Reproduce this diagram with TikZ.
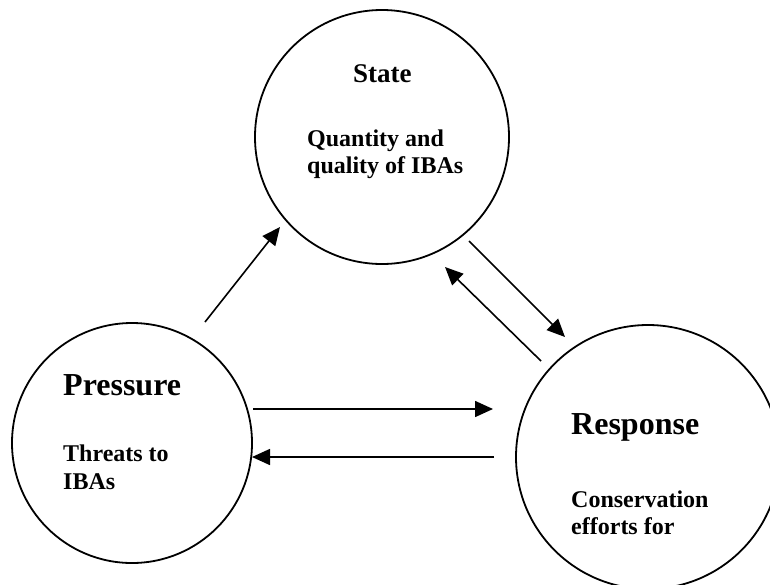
\documentclass[tikz,border=0pt]{standalone}
\usepackage{fontspec}
\setmainfont{Liberation Serif}
\usetikzlibrary{arrows.meta}
\begin{document}
\begin{tikzpicture}[x=1pt,y=-1pt,
  ring/.style={draw, circle, line width=1.8pt, inner sep=0pt},
  link/.style={line width=1.6pt, -{Triangle[length=18pt,width=16pt]}},
  bigtxt/.style={font=\bfseries\fontsize{32}{36}\selectfont, anchor=base west, inner sep=0pt},
  midtxt/.style={font=\bfseries\fontsize{27}{30}\selectfont, anchor=base west, inner sep=0pt},
  smalltxt/.style={font=\bfseries\fontsize{24}{28}\selectfont, anchor=base west, inner sep=0pt}]
\clip (0,0) rectangle (770,584);
\fill[white] (0,0) rectangle (770,584);
% circles
\node[ring, minimum size=254pt] (state) at (382,137) {};
\node[ring, minimum size=240pt] (pressure) at (132,443) {};
\node[ring, minimum size=264pt] (response) at (648,457) {};
% texts
\node[midtxt] (stateT) at (353,82) {State};
\node[smalltxt] (stateA) at (307,146) {Quantity and};
\node[smalltxt] (stateB) at (307,173) {quality of IBAs};
\node[bigtxt] (pressT) at (63,395) {Pressure};
\node[smalltxt] (pressA) at (63,461) {Threats to};
\node[smalltxt] (pressB) at (63,489) {IBAs};
\node[bigtxt] (respT) at (571,434) {Response};
\node[smalltxt] (respA) at (571,507) {Conservation};
\node[smalltxt] (respB) at (571,534) {efforts for};
% connector ends
\coordinate (p1) at (205,322);
\coordinate (s1) at (280,227);
\coordinate (s2) at (469,241);
\coordinate (r2) at (565,337);
\coordinate (r3) at (541,361);
\coordinate (s3) at (445,267);
\coordinate (p4) at (253,409);
\coordinate (r4) at (493,409);
\coordinate (r5) at (494,457);
\coordinate (p5) at (252,457);
% connectors
\draw[link] (p1) -- (s1);
\draw[link] (s2) -- (r2);
\draw[link] (r3) -- (s3);
\draw[link] (p4) -- (r4);
\draw[link] (r5) -- (p5);
\end{tikzpicture}
\end{document}
